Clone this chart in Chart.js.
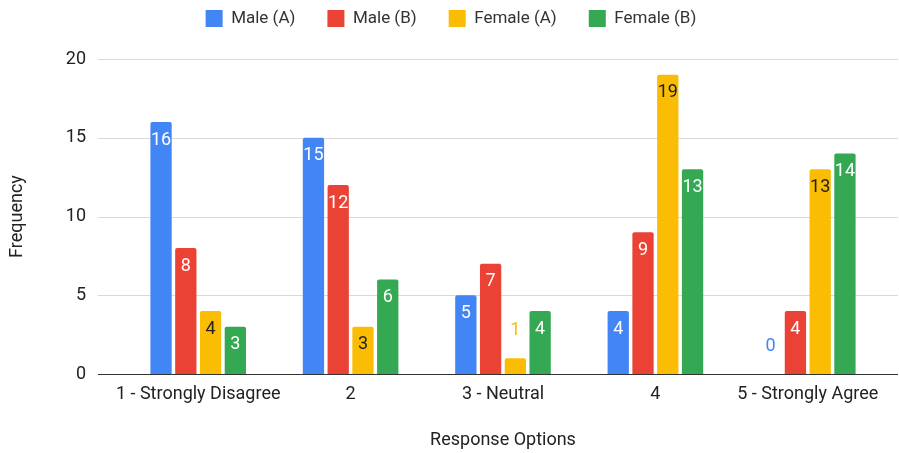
<!DOCTYPE html>
<html>
<head>
<meta charset="utf-8">
<script src="https://cdn.jsdelivr.net/npm/chart.js@4"></script>
<style>
    html, body { margin: 0; padding: 0; background: #fff; }
    #wrap { width: 899px; height: 453px; }
</style>
</head>
<body>
<div id="wrap"><canvas id="surveyChart"></canvas></div>
<script>
// Data
const categories = ['1 - Strongly Disagree', '2', '3 - Neutral', '4', '5 - Strongly Agree'];
const maleA = [16, 15, 5, 4, 0];
const maleB = [8, 12, 7, 9, 4];
const femaleA = [4, 3, 1, 19, 13];
const femaleB = [3, 6, 4, 13, 14];
const yTicks = [0, 5, 10, 15, 20];

const seriesNames = ['Male (A)', 'Male (B)', 'Female (A)', 'Female (B)'];
const seriesData = [maleA, maleB, femaleA, femaleB];
const seriesColors = ['#4285F4', '#EA4335', '#FBBC04', '#34A853'];
const labelInsideColors = ['#ffffff', '#ffffff', '#222222', '#ffffff'];

const FONT = 'Roboto';

// Horizontal grid lines, a bit wider than the bar area like Sheets does
const gridPlugin = {
    id: 'sheetGrid',
    beforeDatasetsDraw(chart) {
        const { ctx, chartArea, scales: { y } } = chart;
        ctx.save();
        ctx.lineWidth = 1;
        yTicks.forEach(v => {
            const py = Math.round(y.getPixelForValue(v)) + 0.5;
            ctx.strokeStyle = v === 0 ? '#333333' : '#d9d9d9';
            ctx.beginPath();
            ctx.moveTo(chartArea.left - 24, py);
            ctx.lineTo(chartArea.right + 14, py);
            ctx.stroke();
        });
        ctx.restore();
    }
};

// Sheets centres the legend a little right of the canvas centre
const legendShift = {
    id: 'legendShift',
    afterLayout(chart) {
        if (chart.legend) {
            chart.legend.left += 9;
            chart.legend.right += 9;
        }
    }
};

// Value labels at the top of each bar
const valueLabels = {
    id: 'valueLabels',
    afterDatasetsDraw(chart) {
        const { ctx } = chart;
        ctx.save();
        ctx.font = '18px ' + FONT;
        ctx.textAlign = 'center';
        ctx.textBaseline = 'middle';
        chart.data.datasets.forEach((ds, di) => {
            chart.getDatasetMeta(di).data.forEach((bar, i) => {
                const h = bar.base - bar.y;
                let ly, col;
                if (h >= 30) {
                    ly = bar.y + 18;
                    col = labelInsideColors[di];
                } else {
                    ly = bar.y - 28;
                    col = seriesColors[di];
                }
                ctx.fillStyle = col;
                ctx.fillText(String(ds.data[i]), bar.x, ly);
            });
        });
        ctx.restore();
    }
};

const ctx = document.getElementById('surveyChart').getContext('2d');

const chart = new Chart(ctx, {
    type: 'bar',
    data: {
        labels: categories,
        datasets: seriesNames.map((name, i) => ({
            label: name,
            data: seriesData[i],
            backgroundColor: seriesColors[i],
            borderRadius: 2,
            categoryPercentage: 0.65,
            barPercentage: 0.86
        }))
    },
    options: {
        responsive: true,
        maintainAspectRatio: false,
        animation: false,
        layout: {
            padding: { top: -22, left: 0, right: 15, bottom: 0 }
        },
        plugins: {
            legend: {
                position: 'top',
                labels: {
                    boxWidth: 17,
                    boxHeight: 17,
                    padding: 32,
                    color: '#333333',
                    font: { family: FONT, size: 17 }
                }
            },
            // empty title used only as spacing under the legend
            title: {
                display: true,
                text: '',
                weight: 500,
                font: { size: 10, lineHeight: 1 },
                padding: { top: 6, bottom: 6 }
            },
            tooltip: { enabled: false }
        },
        scales: {
            x: {
                grid: { display: false, drawTicks: false },
                border: { display: false },
                ticks: {
                    autoSkip: false,
                    color: '#222222',
                    padding: 10,
                    maxRotation: 0,
                    font: { family: FONT, size: 18 }
                },
                title: {
                    display: true,
                    text: 'Response Options',
                    color: '#222222',
                    padding: { top: 0, bottom: 2 },
                    font: { family: FONT, size: 18 }
                },
                afterFit(scale) { scale.height = 79; }
            },
            y: {
                min: 0,
                max: 20,
                grid: { display: false, drawTicks: false },
                border: { display: false },
                ticks: {
                    stepSize: 5,
                    color: '#222222',
                    padding: 36,
                    font: { family: FONT, size: 18 }
                },
                title: {
                    display: true,
                    text: 'Frequency',
                    color: '#222222',
                    padding: { top: 7, bottom: 0 },
                    font: { family: FONT, size: 18 }
                },
                afterFit(scale) { scale.width = 122; }
            }
        }
    },
    plugins: [gridPlugin, legendShift, valueLabels]
});
</script>
</body>
</html>
